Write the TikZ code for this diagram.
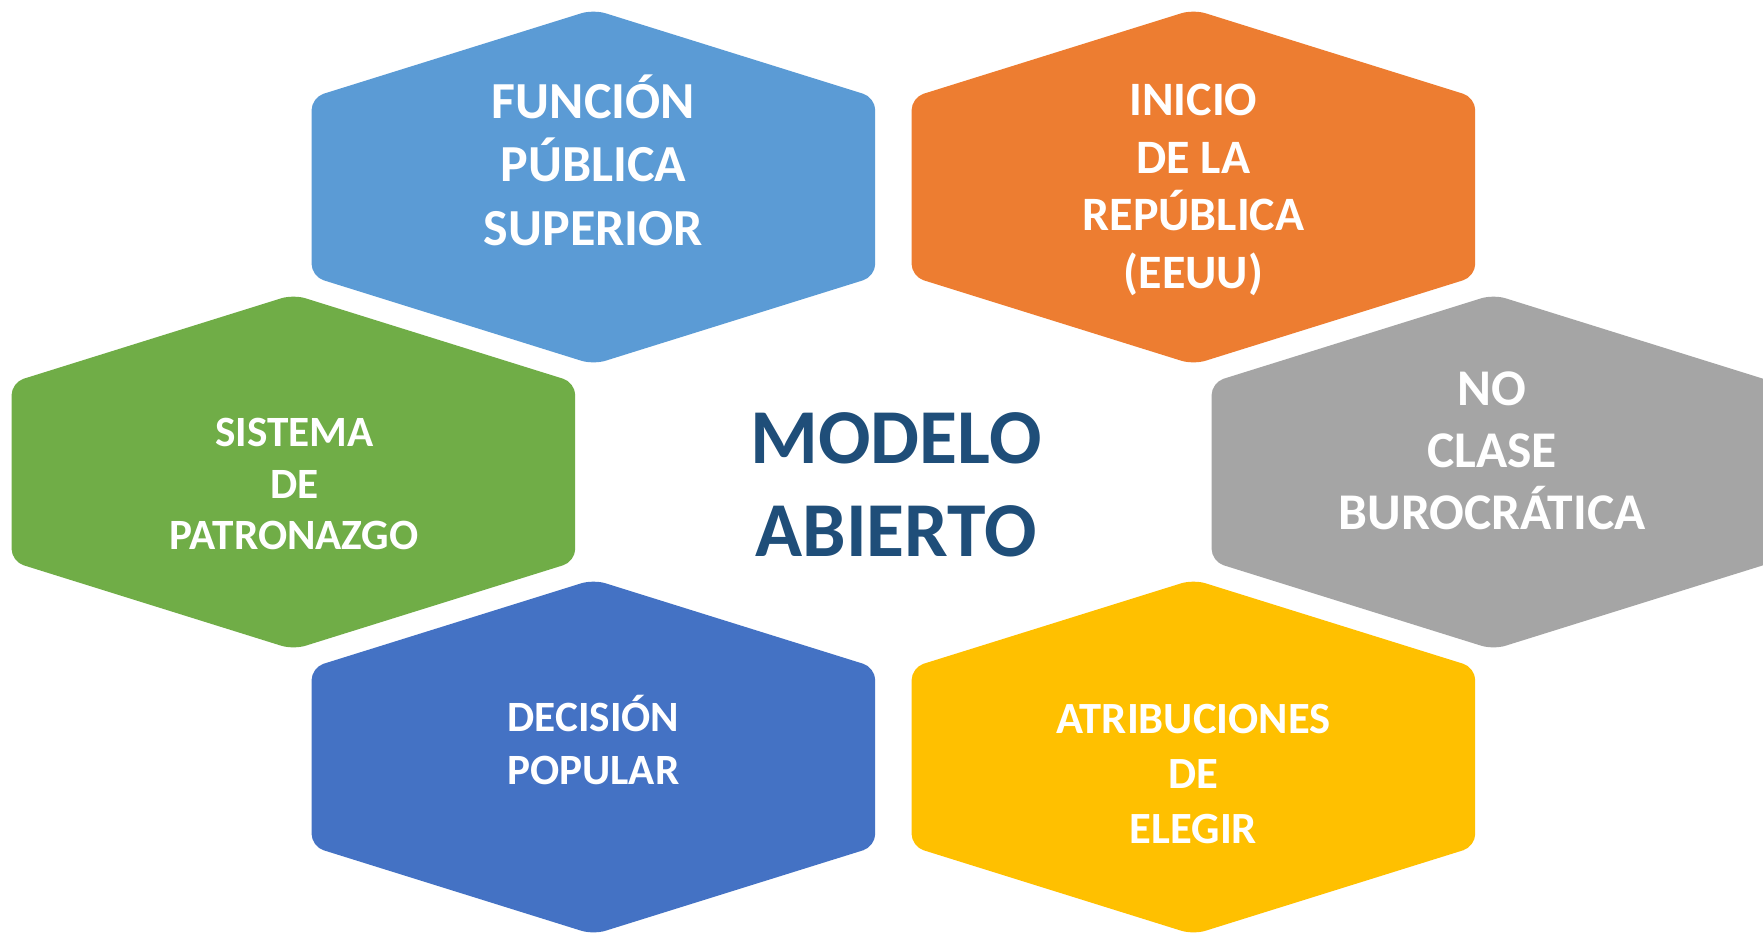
\documentclass[tikz,border=0pt]{standalone}
\usepackage{fontspec}
\setmainfont{Carlito}
\usepackage{tikz}
\usetikzlibrary{calc}
\definecolor{SkyHex}{HTML}{5B9BD5}
\definecolor{OrangeHex}{HTML}{ED7D31}
\definecolor{GreenHex}{HTML}{70AD47}
\definecolor{GreyHex}{HTML}{A5A5A5}
\definecolor{BlueHex}{HTML}{4472C4}
\definecolor{GoldHex}{HTML}{FFC000}
\definecolor{NavyText}{HTML}{1F4E79}
\newcommand{\hexa}[2]{\fill[#2, rounded corners=0.25cm] ($(#1)+(-281.8,0)$) -- ++(0,-89.5) -- ++(281.8,-88) -- ++(281.8,88) -- ++(0,179) -- ++(-281.8,88) -- ++(-281.8,-88) -- cycle;}
\tikzset{hexlabel/.style={text=white, align=center, inner sep=0pt}}

\begin{document}
\begin{tikzpicture}[x=0.02cm, y=-0.02cm]
            \useasboundingbox (0,0) rectangle (1763,934);
            \clip (0,0) rectangle (1763,934);
            \fill[white] (0,0) rectangle (1763,934);
            \coordinate (funcion) at (593.4,187);
            \coordinate (inicio) at (1193.4,187);
            \coordinate (sistema) at (293.4,472);
            \coordinate (clase) at (1493.4,472);
            \coordinate (decision) at (593.4,757);
            \coordinate (elegir) at (1193.4,757);
            \hexa{funcion}{SkyHex}
            \hexa{inicio}{OrangeHex}
            \hexa{sistema}{GreenHex}
            \hexa{clase}{GreyHex}
            \hexa{decision}{BlueHex}
            \hexa{elegir}{GoldHex}
            \node[hexlabel, font={\fontsize{29.6}{36.1}\selectfont\bfseries}] (tfuncion) at (593.4,160) {FUNCIÓN\\PÚBLICA\\SUPERIOR};
            \node[hexlabel, font={\fontsize{27.3}{32.8}\selectfont\bfseries}] (tinicio) at (1193.4,190) {INICIO\\DE LA\\REPÚBLICA\\(EEUU)};
            \node[hexlabel, font={\fontsize{24.6}{29.4}\selectfont\bfseries}] (tsistema) at (294.3,484.3) {SISTEMA\\DE\\PATRONAZGO};
            \node[hexlabel, font={\fontsize{29.3}{35.3}\selectfont\bfseries}] (tclase) at (1492,450.8) {NO\\CLASE\\BUROCRÁTICA};
            \node[hexlabel, font={\fontsize{24.6}{30}\selectfont\bfseries}] (tdecision) at (593.4,740) {DECISIÓN\\POPULAR};
            \node[hexlabel, font={\fontsize{25.4}{31.3}\selectfont\bfseries}] (telegir) at (1193.4,774) {ATRIBUCIONES\\DE\\ELEGIR};
            \node[text=NavyText, align=center, inner sep=0pt, font={\fontsize{44.2}{53.1}\selectfont\bfseries}] (modelo) at (896,485) {MODELO\\ABIERTO};
        \end{tikzpicture}
\end{document}
